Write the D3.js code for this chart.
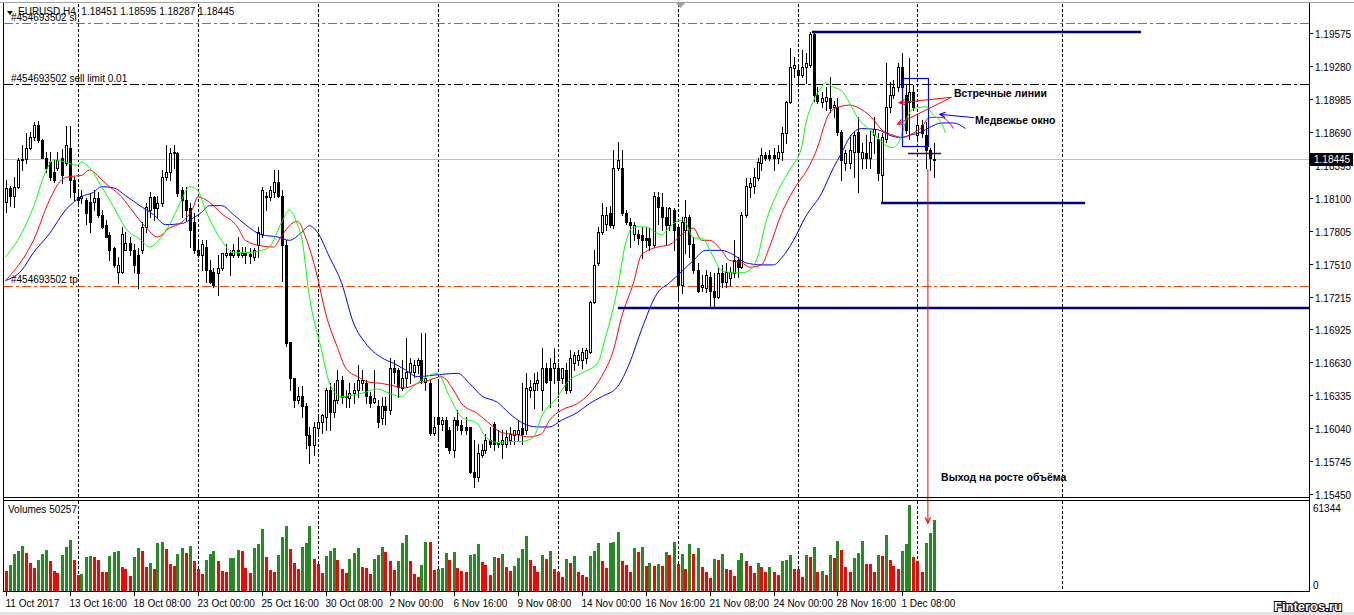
<!DOCTYPE html>
<html><head><meta charset="utf-8">
<script src="https://cdn.jsdelivr.net/npm/d3@7"></script>
<style>
html,body{margin:0;padding:0;background:#fff;overflow:hidden;}
svg{display:block;font-family:"Liberation Sans",Arial,sans-serif;}
</style></head><body>
<svg id="c" width="1354" height="615"></svg>
<script>
// ---------------- DATA ----------------
const symbolHeader = "EURUSD,H4  1.18451 1.18595 1.18287 1.18445";
const timeLabels = ["11 Oct 2017","13 Oct 16:00","18 Oct 08:00","23 Oct 00:00","25 Oct 16:00","30 Oct 08:00","2 Nov 00:00","6 Nov 16:00","9 Nov 08:00","14 Nov 00:00","16 Nov 16:00","21 Nov 08:00","24 Nov 00:00","28 Nov 16:00","1 Dec 08:00"];
const timeLabelBars = [0,16,32,48,64,80,96,112,128,144,160,176,192,208,224];
const gridBars = [18,48,78,108,138,168,198,228,264];
const priceTicks = [1.19575,1.19280,1.18985,1.18690,1.18395,1.18100,1.17805,1.17510,1.17215,1.16925,1.16630,1.16335,1.16040,1.15745,1.15450];

const open = [
1.1806,1.1819,1.1812,1.1820,1.1844,1.1845,1.1855,1.1864,1.1875,1.1862,
1.1846,1.1842,1.1833,1.1837,1.1846,1.1841,1.1855,1.1826,1.1811,1.1810,
1.1808,1.1806,1.1806,1.1810,1.1795,1.1786,1.1777,1.1765,1.1744,1.1744,
1.1763,1.1770,1.1763,1.1759,1.1763,1.1784,1.1799,1.1811,1.1801,1.1805,
1.1829,1.1833,1.1850,1.1850,1.1817,1.1808,1.1801,1.1788,1.1763,1.1759,
1.1766,1.1745,1.1744,1.1743,1.1747,1.1759,1.1761,1.1759,1.1763,1.1759,
1.1761,1.1760,1.1757,1.1768,1.1778,1.1812,1.1811,1.1815,1.1824,1.1812,
1.1768,1.1681,1.1649,1.1629,1.1633,1.1624,1.1598,1.1589,1.1604,1.1609,
1.1614,1.1638,1.1618,1.1629,1.1647,1.1633,1.1631,1.1635,1.1638,1.1644,
1.1644,1.1633,1.1627,1.1624,1.1613,1.1624,1.1620,1.1658,1.1656,1.1640,
1.1649,1.1654,1.1654,1.1660,1.1665,1.1645,1.1644,1.1600,1.1614,1.1608,
1.1611,1.1602,1.1584,1.1611,1.1607,1.1605,1.1605,1.1565,1.1560,1.1580,
1.1584,1.1593,1.1608,1.1591,1.1590,1.1590,1.1593,1.1598,1.1599,1.1604,
1.1602,1.1638,1.1638,1.1644,1.1638,1.1658,1.1658,1.1658,1.1658,1.1649,
1.1656,1.1638,1.1662,1.1665,1.1665,1.1667,1.1672,1.1717,1.1752,1.1779,
1.1787,1.1796,1.1786,1.1837,1.1837,1.1796,1.1788,1.1778,1.1778,1.1777,
1.1774,1.1774,1.1768,1.1811,1.1802,1.1793,1.1786,1.1799,1.1784,1.1732,
1.1781,1.1793,1.1769,1.1745,1.1730,1.1729,1.1739,1.1727,1.1721,1.1743,
1.1735,1.1738,1.1743,1.1754,1.1748,1.1795,1.1820,1.1821,1.1828,1.1841,
1.1848,1.1848,1.1848,1.1846,1.1851,1.1868,1.1896,1.1926,1.1924,1.1920,
1.1927,1.1929,1.1957,1.1902,1.1896,1.1897,1.1899,1.1891,1.1891,1.1869,
1.1841,1.1841,1.1851,1.1869,1.1846,1.1850,1.1846,1.1866,1.1863,1.1830,
1.1863,1.1891,1.1902,1.1909,1.1927,1.1902,1.1896,1.1905,1.1866,1.1875,
1.1866,1.1853,1.18451];
const high = [
1.1826,1.1821,1.1829,1.1846,1.1857,1.1868,1.1869,1.1878,1.1879,1.1863,
1.1851,1.1851,1.1844,1.1851,1.1854,1.1874,1.1874,1.1829,1.1817,1.1817,
1.1810,1.1814,1.1817,1.1815,1.1799,1.1790,1.1779,1.1766,1.1757,1.1784,
1.1779,1.1775,1.1769,1.1765,1.1788,1.1805,1.1815,1.1812,1.1812,1.1835,
1.1857,1.1855,1.1857,1.1851,1.1820,1.1820,1.1805,1.1796,1.1772,1.1772,
1.1772,1.1754,1.1747,1.1759,1.1761,1.1769,1.1763,1.1769,1.1775,1.1766,
1.1766,1.1765,1.1765,1.1784,1.1820,1.1815,1.1821,1.1835,1.1835,1.1817,
1.1772,1.1681,1.1649,1.1641,1.1642,1.1626,1.1605,1.1609,1.1616,1.1617,
1.1640,1.1644,1.1644,1.1656,1.1651,1.1638,1.1644,1.1644,1.1660,1.1656,
1.1647,1.1636,1.1656,1.1629,1.1632,1.1632,1.1667,1.1665,1.1658,1.1665,
1.1685,1.1667,1.1665,1.1667,1.1689,1.1689,1.1647,1.1614,1.1647,1.1614,
1.1614,1.1605,1.1614,1.1620,1.1611,1.1614,1.1605,1.1593,1.1590,1.1590,
1.1599,1.1605,1.1609,1.1602,1.1602,1.1602,1.1605,1.1602,1.1611,1.1644,
1.1653,1.1647,1.1653,1.1654,1.1676,1.1662,1.1667,1.1676,1.1662,1.1658,
1.1662,1.1674,1.1672,1.1674,1.1676,1.1676,1.1718,1.1763,1.1784,1.1805,
1.1802,1.1803,1.1853,1.1860,1.1853,1.1799,1.1792,1.1788,1.1781,1.1784,
1.1784,1.1783,1.1815,1.1815,1.1814,1.1802,1.1802,1.1801,1.1787,1.1793,
1.1808,1.1795,1.1775,1.1752,1.1741,1.1745,1.1744,1.1743,1.1747,1.1750,
1.1752,1.1748,1.1772,1.1757,1.1797,1.1828,1.1828,1.1837,1.1846,1.1855,
1.1851,1.1853,1.1855,1.1857,1.1873,1.1897,1.1944,1.1936,1.1927,1.1942,
1.1940,1.1958,1.1958,1.1909,1.1905,1.1909,1.1918,1.1897,1.1899,1.1871,
1.1853,1.1866,1.1869,1.1882,1.1859,1.1866,1.1871,1.1882,1.1868,1.1868,
1.1931,1.1914,1.1915,1.1931,1.1940,1.1911,1.1935,1.1911,1.1882,1.1880,
1.1878,1.1855,1.18595];
const low = [
1.1797,1.1803,1.1802,1.1819,1.1835,1.1841,1.1854,1.1862,1.1860,1.1846,
1.1833,1.1826,1.1824,1.1835,1.1823,1.1839,1.1811,1.1808,1.1805,1.1805,
1.1787,1.1779,1.1799,1.1793,1.1783,1.1775,1.1754,1.1748,1.1734,1.1743,
1.1763,1.1759,1.1744,1.1729,1.1761,1.1779,1.1793,1.1790,1.1793,1.1803,
1.1826,1.1826,1.1837,1.1812,1.1793,1.1790,1.1766,1.1761,1.1757,1.1745,
1.1735,1.1734,1.1730,1.1723,1.1745,1.1757,1.1741,1.1757,1.1757,1.1757,
1.1752,1.1752,1.1754,1.1757,1.1775,1.1799,1.1808,1.1811,1.1811,1.1736,
1.1677,1.1638,1.1623,1.1626,1.1614,1.1586,1.1573,1.1580,1.1599,1.1600,
1.1602,1.1602,1.1614,1.1626,1.1626,1.1623,1.1623,1.1626,1.1632,1.1638,
1.1626,1.1623,1.1626,1.1605,1.1608,1.1608,1.1617,1.1644,1.1632,1.1638,
1.1641,1.1644,1.1650,1.1653,1.1644,1.1638,1.1598,1.1598,1.1593,1.1602,
1.1587,1.1582,1.1578,1.1602,1.1599,1.1599,1.1564,1.1551,1.1557,1.1578,
1.1582,1.1587,1.1584,1.1587,1.1577,1.1587,1.1590,1.1590,1.1593,1.1590,
1.1599,1.1632,1.1622,1.1638,1.1620,1.1644,1.1623,1.1644,1.1632,1.1644,
1.1635,1.1636,1.1656,1.1660,1.1658,1.1662,1.1671,1.1716,1.1750,1.1778,
1.1781,1.1784,1.1783,1.1835,1.1795,1.1787,1.1766,1.1772,1.1769,1.1756,
1.1766,1.1763,1.1766,1.1787,1.1781,1.1769,1.1781,1.1763,1.1719,1.1725,
1.1761,1.1757,1.1743,1.1726,1.1727,1.1726,1.1712,1.1712,1.1720,1.1730,
1.1730,1.1732,1.1739,1.1739,1.1747,1.1793,1.1811,1.1814,1.1826,1.1835,
1.1844,1.1844,1.1835,1.1841,1.1844,1.1859,1.1895,1.1918,1.1913,1.1918,
1.1913,1.1927,1.1897,1.1895,1.1891,1.1889,1.1887,1.1882,1.1866,1.1826,
1.1835,1.1837,1.1829,1.1815,1.1837,1.1837,1.1837,1.1850,1.1826,1.1806,
1.1860,1.1887,1.1899,1.1906,1.1900,1.1868,1.1863,1.1889,1.1863,1.1864,
1.1837,1.1835,1.18287];
const close = [
1.1819,1.1812,1.1820,1.1844,1.1845,1.1855,1.1864,1.1875,1.1862,1.1846,
1.1837,1.1829,1.1826,1.1844,1.1830,1.1857,1.1826,1.1815,1.1808,1.1812,
1.1796,1.1788,1.1810,1.1795,1.1784,1.1775,1.1763,1.1750,1.1750,1.1778,
1.1770,1.1763,1.1750,1.1743,1.1784,1.1802,1.1811,1.1801,1.1805,1.1829,
1.1833,1.1850,1.1851,1.1814,1.1808,1.1799,1.1781,1.1763,1.1759,1.1769,
1.1745,1.1735,1.1732,1.1747,1.1761,1.1761,1.1759,1.1763,1.1759,1.1761,
1.1759,1.1758,1.1763,1.1779,1.1817,1.1811,1.1817,1.1824,1.1812,1.1768,
1.1680,1.1649,1.1629,1.1633,1.1624,1.1598,1.1589,1.1605,1.1609,1.1616,
1.1638,1.1618,1.1629,1.1647,1.1632,1.1632,1.1635,1.1638,1.1647,1.1647,
1.1633,1.1626,1.1631,1.1609,1.1624,1.1620,1.1658,1.1654,1.1641,1.1649,
1.1654,1.1662,1.1660,1.1665,1.1647,1.1649,1.1600,1.1605,1.1608,1.1611,
1.1587,1.1584,1.1611,1.1607,1.1602,1.1602,1.1565,1.1560,1.1582,1.1584,
1.1593,1.1590,1.1590,1.1590,1.1593,1.1596,1.1599,1.1602,1.1602,1.1599,
1.1640,1.1641,1.1644,1.1647,1.1658,1.1645,1.1647,1.1662,1.1647,1.1658,
1.1638,1.1667,1.1669,1.1669,1.1672,1.1674,1.1717,1.1750,1.1779,1.1795,
1.1795,1.1786,1.1837,1.1844,1.1796,1.1788,1.1786,1.1786,1.1774,1.1772,
1.1772,1.1768,1.1812,1.1802,1.1793,1.1786,1.1801,1.1781,1.1732,1.1788,
1.1793,1.1769,1.1745,1.1727,1.1732,1.1741,1.1727,1.1721,1.1743,1.1735,
1.1744,1.1744,1.1754,1.1748,1.1795,1.1821,1.1823,1.1829,1.1842,1.1848,
1.1846,1.1846,1.1846,1.1851,1.1868,1.1896,1.1927,1.1929,1.1920,1.1927,
1.1931,1.1957,1.1902,1.1897,1.1899,1.1900,1.1890,1.1893,1.1869,1.1844,
1.1850,1.1853,1.1866,1.1851,1.1851,1.1846,1.1860,1.1872,1.1832,1.1864,
1.1891,1.1902,1.1909,1.1927,1.1909,1.1871,1.1905,1.1891,1.1875,1.1868,
1.1853,1.1846,1.18445];
const volume = [
13955,18045,25985,28150,31759,26947,19729,15639,21654,25985,
28872,21173,13714,12511,25263,31278,36090,21654,10827,11549,
23579,24541,24060,21654,13233,13100,24541,27428,27910,16601,
15158,10105,23819,30556,28150,16601,19729,15158,34165,34646,
29594,18767,17323,26225,30316,26947,31759,20932,15158,11549,
21654,25744,28150,20932,13714,12992,22857,23338,28631,28150,
15880,12271,30316,33443,44030,23819,14677,13233,25263,38255,
46195,29594,19248,15158,31037,33925,46400,22376,18767,12271,
24541,28150,30556,21895,15158,12271,22376,26707,30316,16601,
15880,11549,22376,25263,31037,27428,21173,14436,20932,33925,
39699,21173,11549,9143,18045,34646,34500,14436,15398,15880,
26947,21654,27428,15880,13714,12992,25263,25985,33203,20210,
18045,10827,23819,23098,25985,16601,13714,17323,23098,29594,
38977,21654,17323,12992,25263,22135,28150,14917,12992,9383,
22376,19489,24541,12992,10827,9383,24541,28150,34165,20932,
15880,34165,34646,41864,20932,18045,12992,30316,27428,31037,
17323,19248,17323,18767,17323,27428,25263,34646,18767,25985,
15158,33203,25985,30316,16601,12992,8662,22376,21654,25985,
15158,14436,10105,21654,26707,20692,17323,12271,19489,16601,
12992,16361,12992,10827,20932,21654,25263,15158,15000,9383,
25263,23819,31037,12992,13714,10827,25263,23338,35368,28872,
16601,12992,23098,26707,35368,18767,18600,12992,25263,24541,
39699,21654,17323,15158,28150,33203,61344,23819,20932,12992,
33925,41143,50257];
const volumeMax = 61344;
const volumeCurrent = 50257;

// Alligator: jaw = blue, teeth = red, lips = lime
const jawBars = [0,4,7,11,15,19,22,24,27,30,34,37,40,44,46,49,51,54,57,60,64,68,71,74,76,78,81,84,87,90,94,97,100,103,106,109,113,116,119,123,126,129,133,136,139,143,146,149,153,156,159,163,166,169,172,175,179,182,185,189,192,194,197,200,204,207,209,211,214,218,221,224,226,229,231,234,237,240];
const jawValues = [1.1736,1.1745,1.1761,1.1778,1.1799,1.1811,1.1815,1.1820,1.1819,1.1812,1.1802,1.1795,1.1786,1.1787,1.1790,1.1797,1.1803,1.1803,1.1795,1.1786,1.1777,1.1775,1.1772,1.1779,1.1785,1.1779,1.1757,1.1734,1.1698,1.1680,1.1667,1.1662,1.1656,1.1650,1.1651,1.1652,1.1653,1.1644,1.1633,1.1627,1.1617,1.1609,1.1605,1.1605,1.1611,1.1618,1.1626,1.1632,1.1641,1.1662,1.1692,1.1725,1.1734,1.1744,1.1754,1.1763,1.1763,1.1759,1.1752,1.1750,1.1750,1.1756,1.1772,1.1793,1.1814,1.1837,1.1850,1.1864,1.1872,1.1871,1.1866,1.1864,1.1866,1.1869,1.1873,1.1877,1.1877,1.1872];
const teethBars = [0,2,7,11,14,16,19,21,23,25,29,32,35,38,41,44,47,48,51,54,58,60,64,67,69,72,73,75,78,80,83,85,88,91,94,98,100,103,106,109,112,114,118,121,124,128,131,134,136,139,143,146,149,152,154,157,159,163,166,169,172,174,176,179,181,184,186,189,191,194,197,201,203,205,206,208,209,211,214,217,219,222,224,227,229,231,234,236,237];
const teethValues = [1.1736,1.1744,1.1772,1.1808,1.1826,1.1829,1.1830,1.1835,1.1830,1.1823,1.1811,1.1797,1.1784,1.1775,1.1783,1.1788,1.1802,1.1811,1.1806,1.1796,1.1784,1.1772,1.1767,1.1766,1.1776,1.1788,1.1789,1.1775,1.1739,1.1707,1.1676,1.1658,1.1650,1.1645,1.1644,1.1641,1.1640,1.1644,1.1647,1.1650,1.1638,1.1626,1.1617,1.1608,1.1600,1.1598,1.1596,1.1599,1.1611,1.1620,1.1626,1.1635,1.1650,1.1674,1.1703,1.1734,1.1759,1.1766,1.1768,1.1777,1.1783,1.1772,1.1772,1.1763,1.1754,1.1752,1.1748,1.1750,1.1766,1.1796,1.1817,1.1839,1.1855,1.1878,1.1886,1.1891,1.1892,1.1893,1.1889,1.1880,1.1871,1.1866,1.1864,1.1868,1.1873,1.1882,1.1882,1.1877,1.1872];
const lipsBars = [0,4,7,10,12,15,18,19,21,24,27,30,34,36,39,41,44,46,48,50,54,57,60,64,66,69,71,73,74,76,79,81,84,86,89,93,96,99,101,104,108,111,114,118,120,123,126,129,132,134,138,141,144,148,150,153,155,157,160,164,166,169,170,172,174,177,179,182,184,186,188,190,193,196,199,200,202,204,205,207,209,211,213,216,218,220,222,224,225,227,229,230,232,234,235];
const lipsValues = [1.1757,1.1778,1.1802,1.1833,1.1844,1.1842,1.1839,1.1842,1.1837,1.1820,1.1802,1.1783,1.1772,1.1766,1.1775,1.1786,1.1808,1.1820,1.1817,1.1799,1.1772,1.1761,1.1761,1.1763,1.1766,1.1788,1.1799,1.1786,1.1775,1.1721,1.1674,1.1644,1.1632,1.1633,1.1635,1.1639,1.1635,1.1632,1.1638,1.1647,1.1653,1.1632,1.1614,1.1608,1.1596,1.1591,1.1592,1.1592,1.1596,1.1614,1.1632,1.1647,1.1653,1.1662,1.1685,1.1729,1.1769,1.1784,1.1784,1.1777,1.1784,1.1790,1.1788,1.1774,1.1774,1.1757,1.1745,1.1743,1.1743,1.1745,1.1757,1.1787,1.1815,1.1835,1.1855,1.1875,1.1897,1.1909,1.1913,1.1909,1.1906,1.1895,1.1882,1.1871,1.1864,1.1857,1.1855,1.1866,1.1878,1.1890,1.1891,1.1892,1.1884,1.1877,1.1868];

// order levels
const orderLevelNames = ["#454693502 sl","#454693502 sell limit 0.01","#454693502 tp"];
const orderLevelPrices = [1.19664,1.19119,1.17311];
const bidPrice = 1.18445;
// user drawn horizontal levels (navy)
const levelPrices = [1.19586,1.18056,1.17116];
const levelFromBar = [201.6,218.9,153.1];
const levelToBar = [283.9,269.9,326];
// short purple segment
const shortLinePrice = 1.18503, shortLineFrom = 225.6, shortLineTo = 233.9;
// blue box (bar range, price range)
const boxBars = [224.1,230.6], boxPrices = [1.19172,1.18563];
// annotations
const noteTexts = ["Встречные линии","Медвежье окно","Выход на росте объёма"];
const noteBars = [237.1,242.4,233.9];
const notePrices = [1.19038,1.18796,1.15601];

// ---------------- DRAW ----------------
const svg = d3.select('#c');
const x = d3.scaleLinear().domain([0,326]).range([5.5,1309.5]);
const y = d3.scaleLinear().domain([1.15450,1.19575]).range([494,33]);
const yv = d3.scaleLinear().domain([0,volumeMax]).range([590,505]);
const px = v => Math.round(v)+0.5;

svg.append('rect').attr('width',1354).attr('height',615).attr('fill','#fff');

const defs = svg.append('defs');
defs.append('clipPath').attr('id','mainClip').append('rect').attr('x',4).attr('y',4).attr('width',1305).attr('height',493);
defs.append('clipPath').attr('id','volClip').append('rect').attr('x',4).attr('y',501).attr('width',1305).attr('height',90);

const main = svg.append('g').attr('clip-path','url(#mainClip)');
const vol = svg.append('g').attr('clip-path','url(#volClip)');

// vertical grid
gridBars.forEach(b=>{
  main.append('line').attr('x1',px(x(b))).attr('x2',px(x(b))).attr('y1',4).attr('y2',497)
    .attr('stroke','#000').attr('stroke-dasharray','3,2');
  vol.append('line').attr('x1',px(x(b))).attr('x2',px(x(b))).attr('y1',501).attr('y2',591)
    .attr('stroke','#000').attr('stroke-dasharray','3,2');
});

// order lines
const orderColors = ['#ff4500','#000000','#ff4500'];
orderLevelPrices.forEach((p,i)=>{
  main.append('line').attr('x1',4).attr('x2',1309).attr('y1',px(y(p))).attr('y2',px(y(p)))
    .attr('stroke',orderColors[i]).attr('stroke-dasharray','9,3,3,3');
});
// bid line
main.append('line').attr('x1',4).attr('x2',1309).attr('y1',px(y(bidPrice))).attr('y2',px(y(bidPrice))).attr('stroke','#c0c0c0');

// candles
const n = Math.min(open.length,high.length,low.length,close.length);
for(let i=0;i<n;i++){
  const xc = px(x(i));
  main.append('line').attr('x1',xc).attr('x2',xc).attr('y1',Math.round(y(high[i]))).attr('y2',Math.round(y(low[i]))+1)
    .attr('stroke','#000').attr('stroke-width',1);
  const yo = Math.round(y(open[i])), yc = Math.round(y(close[i]));
  if(close[i]>open[i]){
    main.append('rect').attr('x',xc-1).attr('y',yc+0.5).attr('width',2).attr('height',Math.max(yo-yc,1))
      .attr('fill','#fff').attr('stroke','#000').attr('stroke-width',1);
  } else if(close[i]<open[i]){
    main.append('rect').attr('x',xc-1.5).attr('y',yo).attr('width',3).attr('height',Math.max(yc-yo,1)+1).attr('fill','#000');
  } else {
    main.append('line').attr('x1',xc-1.5).attr('x2',xc+1.5).attr('y1',yo+0.5).attr('y2',yo+0.5).attr('stroke','#000');
  }
}

// alligator
const lineGen = d3.line().x(d=>x(d[0])).y(d=>y(d[1])).curve(d3.curveMonotoneX);
[[jawBars,jawValues,'#0000ff'],[teethBars,teethValues,'#ff0000'],[lipsBars,lipsValues,'#00ff00']].forEach(([b,v,c])=>{
  main.append('path').attr('d',lineGen(b.map((bb,i)=>[bb,v[i]]))).attr('fill','none').attr('stroke',c).attr('stroke-width',1);
});

// navy levels
levelPrices.forEach((p,i)=>{
  main.append('line').attr('x1',x(levelFromBar[i])).attr('x2',x(levelToBar[i])).attr('y1',Math.round(y(p))).attr('y2',Math.round(y(p)))
    .attr('stroke','#000080').attr('stroke-width',2.5);
});
main.append('line').attr('x1',x(shortLineFrom)).attr('x2',x(shortLineTo)).attr('y1',px(y(shortLinePrice))).attr('y2',px(y(shortLinePrice)))
  .attr('stroke','#4b0050').attr('stroke-width',1.5);

// blue box
main.append('rect').attr('x',px(x(boxBars[0]))).attr('y',px(y(boxPrices[0])))
  .attr('width',Math.round(x(boxBars[1])-x(boxBars[0]))).attr('height',Math.round(y(boxPrices[1])-y(boxPrices[0])))
  .attr('fill','none').attr('stroke','#0000ff').attr('stroke-width',1.2);

// arrows
function arrow(g,x1,y1,x2,y2,color){
  g.append('line').attr('x1',x1).attr('y1',y1).attr('x2',x2).attr('y2',y2).attr('stroke',color).attr('stroke-width',1);
  const a=Math.atan2(y1-y2,x1-x2), L=6, s=0.45;
  const p1=[x2+L*Math.cos(a+s), y2+L*Math.sin(a+s)], p2=[x2+L*Math.cos(a-s), y2+L*Math.sin(a-s)];
  g.append('path').attr('d',`M${p1[0]},${p1[1]}L${x2},${y2}L${p2[0]},${p2[1]}`).attr('fill','none').attr('stroke',color).attr('stroke-width',1.2);
}
const ann = svg.append('g');
arrow(ann, x(236.5), y(1.19000), x(223.45), y(1.18951), '#ff0000');
arrow(ann, x(236.5), y(1.19000), x(223.05), y(1.18760), '#ff0000');
arrow(ann, x(242.2), y(1.18817), x(233.6), y(1.18847), '#0000ff');
arrow(ann, x(230.6), y(1.18357), x(230.6), yv(48353), '#ff0000');

noteTexts.forEach((t,i)=>{
  ann.append('text').attr('x',x(noteBars[i])).attr('y',y(notePrices[i])+4)
    .attr('font-size','10.5px').attr('font-weight','bold').attr('fill','#000').text(t);
});

// volume bars
for(let i=0;i<volume.length;i++){
  const xc = px(x(i));
  const up = i>0 && volume[i]>volume[i-1];
  const yt = Math.round(yv(volume[i]));
  vol.append('rect').attr('x',xc-1.5).attr('y',yt).attr('width',3).attr('height',591-yt)
    .attr('fill', up ? '#228b22' : '#ff0000');
}

// order level labels
const labelOffsets = [-2,-2,-3];
orderLevelPrices.forEach((p,i)=>{
  svg.append('text').attr('x',11).attr('y',Math.round(y(p))+labelOffsets[i]).attr('font-size','10px').attr('fill','#000').text(orderLevelNames[i]);
});

// header
svg.append('path').attr('d','M7,11L13,11L10,15Z').attr('fill','#000');
svg.append('text').attr('x',18).attr('y',15).attr('font-size','10px').attr('fill','#000').attr('xml:space','preserve').text(symbolHeader);

// frames
const fr = svg.append('g').attr('fill','none').attr('stroke','#000').attr('stroke-width',1);
fr.append('line').attr('x1',0).attr('x2',1354).attr('y1',2.5).attr('y2',2.5).attr('stroke','#a0a0a0');
fr.append('line').attr('x1',3.5).attr('x2',3.5).attr('y1',3).attr('y2',592);
fr.append('line').attr('x1',1309.5).attr('x2',1309.5).attr('y1',3).attr('y2',592);
fr.append('line').attr('x1',3).attr('x2',1310).attr('y1',497.5).attr('y2',497.5);
fr.append('line').attr('x1',3).attr('x2',1310).attr('y1',500.5).attr('y2',500.5);
fr.append('line').attr('x1',3).attr('x2',1310).attr('y1',591.5).attr('y2',591.5);
svg.append('path').attr('d','M676,3L685,3L680.5,8Z').attr('fill','#a0a0a0');

// price axis
priceTicks.forEach(p=>{
  const yy = px(y(p));
  svg.append('line').attr('x1',1309).attr('x2',1313).attr('y1',yy).attr('y2',yy).attr('stroke','#000');
  svg.append('text').attr('x',1315).attr('y',yy+4).attr('font-size','10px').attr('fill','#000').text(p.toFixed(5));
});
// current price box
const yb = Math.round(y(bidPrice));
svg.append('rect').attr('x',1310).attr('y',yb-6).attr('width',43).attr('height',13).attr('fill','#000');
svg.append('text').attr('x',1314).attr('y',yb+4).attr('font-size','10px').attr('fill','#fff').text(bidPrice.toFixed(5));

// volume labels
svg.append('text').attr('x',8).attr('y',513).attr('font-size','10px').attr('fill','#000').text('Volumes ' + volumeCurrent);
svg.append('text').attr('x',1313).attr('y',512).attr('font-size','10px').attr('fill','#000').text(String(volumeMax));
svg.append('text').attr('x',1313).attr('y',589).attr('font-size','10px').attr('fill','#000').text('0');

// time axis
timeLabelBars.forEach((b,i)=>{
  const xx = px(x(b));
  svg.append('line').attr('x1',xx).attr('x2',xx).attr('y1',592).attr('y2',596).attr('stroke','#000');
  svg.append('text').attr('x',xx-1).attr('y',607).attr('font-size','10px').attr('fill','#000').text(timeLabels[i]);
});

// bottom band + watermark
svg.append('rect').attr('x',0).attr('y',612).attr('width',1354).attr('height',3).attr('fill','#e4e4e4');
svg.append('text').attr('x',1274).attr('y',611).attr('font-size','13px').attr('font-weight','bold')
  .attr('fill','#fff').attr('stroke','#000').attr('stroke-width',2).attr('paint-order','stroke').text('Finteros.ru');
</script>
</body></html>
